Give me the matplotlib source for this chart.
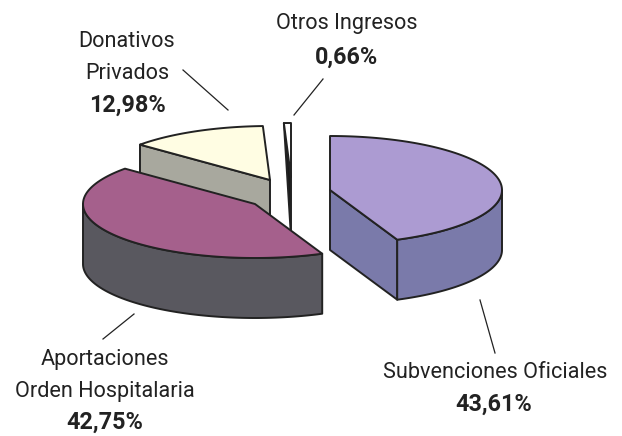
import numpy as np
import matplotlib
matplotlib.use("Agg")
import matplotlib.pyplot as plt
from matplotlib.patches import Polygon

categories = ["Subvenciones Oficiales", "Aportaciones\nOrden Hospitalaria", "Donativos\nPrivados", "Otros Ingresos"]
shares = [43.61, 42.75, 12.98, 0.66]
share_labels = ["43,61%", "42,75%", "12,98%", "0,66%"]

RX, RY, DEPTH = 172, 54, 60
centers = [(330, 190), (255, 204), (270, 180), (291, 177)]
top_colors = ["#ac9bd2", "#a5608c", "#fffde3", "#ffffff"]
side_colors = ["#7a7aaa", "#59585f", "#a8a89e", "#1a1a1a"]
EDGE = "#222222"
LW = 1.4

fig = plt.figure(figsize=(6.22, 4.36), dpi=100)
ax = fig.add_axes([0, 0, 1, 1])
ax.set_xlim(0, 622)
ax.set_ylim(436, 0)
ax.axis("off")

fractions = np.array(shares) / sum(shares)
stops = np.concatenate([[0], np.cumsum(fractions)]) * 2 * np.pi


def rim(center, a, b, n=120):
    t = np.linspace(a, b, n)
    return np.column_stack([center[0] + RX * np.sin(t), center[1] - RY * np.cos(t)])


def face(pts, color, z):
    ax.add_patch(Polygon(pts, closed=True, fc=color, ec=EDGE, lw=LW, joinstyle="round", zorder=z))


down = np.array([0, DEPTH])
order = [3, 2, 1, 0]
for z, i in enumerate(order):
    c = np.array(centers[i], float)
    a, b = stops[i], stops[i + 1]
    base = 10 * (z + 1)
    if i == 3:
        arc = rim(c, a, b, 6)
        face(np.vstack([arc[0], c, c + down]), side_colors[i], base)
        face(np.vstack([arc, c]), top_colors[i], base + 2)
        continue
    p_a = rim(c, a, a, 1)[0]
    p_b = rim(c, b, b, 1)[0]
    if i == 0:
        face([c, p_b, p_b + down, c + down], side_colors[i], base)
    if i == 2:
        face([p_a, c, c + down, p_a + down], side_colors[i], base)
    lo, hi = max(a, np.pi / 2), min(b, 1.5 * np.pi)
    if hi > lo:
        arc = rim(c, lo, hi)
        face(np.vstack([arc, (arc + down)[::-1]]), side_colors[i], base + 1)
    face(np.vstack([c, rim(c, a, b)]), top_colors[i], base + 2)

FONT = ["Roboto", "Liberation Sans", "DejaVu Sans"]
FS = 15.6
name_pos = [(495, 372), (105, 375.5), (127, 57.5), (347, 24)]
pct_pos = [(494, 404), (105, 422), (127, 105), (347, 57)]
for name, pct, np_, pp in zip(categories, share_labels, name_pos, pct_pos):
    ax.text(*np_, name, family=FONT, fontsize=FS, ha="center", va="center",
            color="#222222", linespacing=1.66, zorder=100)
    ax.text(*pp, pct, family=FONT, fontsize=FS + 1.2, fontweight="bold", ha="center", va="center",
            color="#222222", zorder=100)

leaders = [((480, 300), (495, 353)), ((134, 314), (103, 339)), ((183, 70), (228, 110)), ((323, 79), (294, 115))]
for (x0, y0), (x1, y1) in leaders:
    ax.plot([x0, x1], [y0, y1], color="#222222", lw=0.9, zorder=90)

fig.savefig("out.png", dpi=100, facecolor="white")
